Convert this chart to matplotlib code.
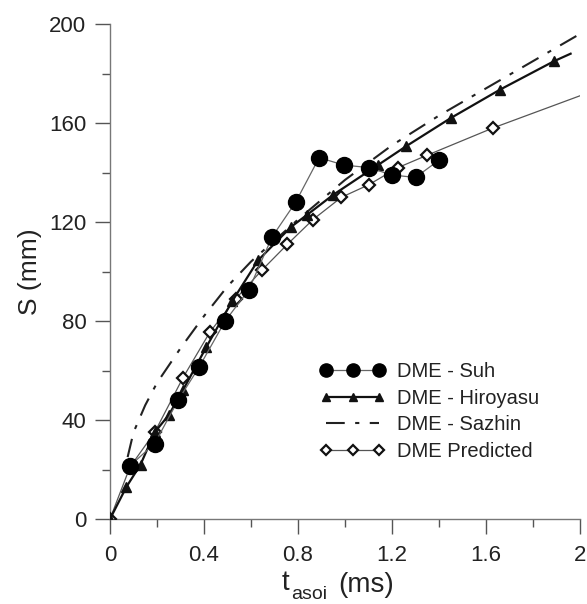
import matplotlib
matplotlib.use("Agg")
import matplotlib.pyplot as plt
from matplotlib.ticker import MultipleLocator

plt.rcParams['font.family'] = ['Liberation Sans', 'DejaVu Sans']

# Data (t in ms, S in mm)
suh_t = [0.085, 0.19, 0.29, 0.38, 0.49, 0.59, 0.69, 0.79, 0.89, 0.995, 1.10, 1.20, 1.30, 1.40]
suh_s = [21.5, 30.5, 48.0, 61.5, 80.0, 92.5, 114.0, 128.0, 146.0, 143.0, 142.0, 139.0, 138.0, 145.0]

hiro_t = [0.0, 0.07, 0.13, 0.19, 0.25, 0.31, 0.41, 0.52, 0.63, 0.77, 0.84, 0.95, 1.14, 1.26, 1.45, 1.66, 1.89, 1.96]
hiro_s = [0.0, 13.0, 22.0, 35.0, 42.0, 52.0, 69.5, 88.0, 104.5, 118.0, 123.0, 131.0, 143.0, 150.6, 162.0, 173.5, 185.0, 188.0]

saz_t = [0.075, 0.1, 0.15, 0.2, 0.3, 0.4, 0.5, 0.6, 0.8, 1.0, 1.2, 1.4, 1.6, 1.8, 2.0]
saz_s = [25.0, 35.0, 46.0, 55.0, 69.0, 82.0, 94.0, 104.0, 121.0, 137.0, 151.0, 163.0, 174.0, 185.0, 196.0]

pred_t = [0.0, 0.085, 0.19, 0.31, 0.425, 0.535, 0.647, 0.755, 0.864, 0.985, 1.10, 1.226, 1.35, 1.63, 2.0]
pred_s = [0.0, 21.0, 35.0, 57.0, 75.5, 89.0, 100.6, 111.0, 121.0, 130.0, 135.0, 142.0, 147.0, 158.0, 171.0]

labels_order = ['DME - Suh', 'DME - Hiroyasu', 'DME - Sazhin', 'DME Predicted']

W, H = 587, 604
fig = plt.figure(figsize=(W/100, H/100), dpi=100)
ax = fig.add_axes([110/W, 1-519/H, 470/W, 495/H])

ax.plot(saz_t, saz_s, color='#222222', lw=1.5, dashes=(9, 5, 2, 5),
        label=labels_order[2], zorder=2)
ax.plot(pred_t, pred_s, color='#555555', lw=0.9, marker='D', ms=6,
        mfc='white', mec='#111111', mew=1.6, markevery=list(range(len(pred_t) - 1)),
        label=labels_order[3], zorder=3)
ax.plot(hiro_t, hiro_s, color='#111111', lw=1.6, marker='^', ms=7.5,
        mfc='#111111', mec='#111111', markevery=list(range(len(hiro_t) - 1)),
        label=labels_order[1], zorder=4)
ax.plot(suh_t, suh_s, color='#666666', lw=0.9, marker='o', ms=11.5,
        mfc='black', mec='black', label=labels_order[0], zorder=5)

ax.set_xlim(0, 2)
ax.set_ylim(0, 200)
ax.xaxis.set_minor_locator(MultipleLocator(0.2))
ax.yaxis.set_major_locator(MultipleLocator(40))
ax.yaxis.set_minor_locator(MultipleLocator(20))
ax.set_xticks([0, 0.4, 0.8, 1.2, 1.6, 2.0])
ax.set_xticklabels(['0', '0.4', '0.8', '1.2', '1.6', '2'])

for s in ['top', 'right']:
    ax.spines[s].set_visible(False)
for s in ['left', 'bottom']:
    ax.spines[s].set_color('#777777')
    ax.spines[s].set_linewidth(1.0)
ax.tick_params(which='major', direction='out', length=11, width=1.0, color='#555555',
               labelsize=16, labelcolor='#222222')
ax.tick_params(axis='x', which='major', pad=8)
ax.tick_params(axis='y', which='major', pad=6)
ax.tick_params(which='minor', direction='out', length=6, width=1.0, color='#555555')

ax.set_ylabel('S (mm)', fontsize=19, color='#222222', labelpad=5)

# x label: t with large subscript "asoi", then "(ms)"
fig.text(282/W, 1-590/H, 't', fontsize=20, color='#222222', ha='left', va='baseline')
fig.text(291/W, 1-599/H, 'asoi', fontsize=14, color='#222222', ha='left', va='baseline')
fig.text(338/W, 1-592/H, '(ms)', fontsize=20, color='#222222', ha='left', va='baseline')

handles, labels = ax.get_legend_handles_labels()
hmap = dict(zip(labels, handles))
leg = ax.legend([hmap[o] for o in labels_order], labels_order, loc='upper left',
                bbox_to_anchor=(320/W, 1-362/H), bbox_transform=fig.transFigure,
                frameon=False, fontsize=14.5, numpoints=3, handlelength=3.25,
                handletextpad=0.55, labelspacing=0.38, borderpad=0, borderaxespad=0)
for t in leg.get_texts():
    t.set_color('#222222')
sizes = {'DME - Suh': 9.5, 'DME - Hiroyasu': 6, 'DME - Sazhin': 0, 'DME Predicted': 5}
for h, lab in zip(leg.legend_handles, labels_order):
    if sizes[lab]:
        h.set_markersize(sizes[lab])

fig.savefig('out.png', dpi=100)
